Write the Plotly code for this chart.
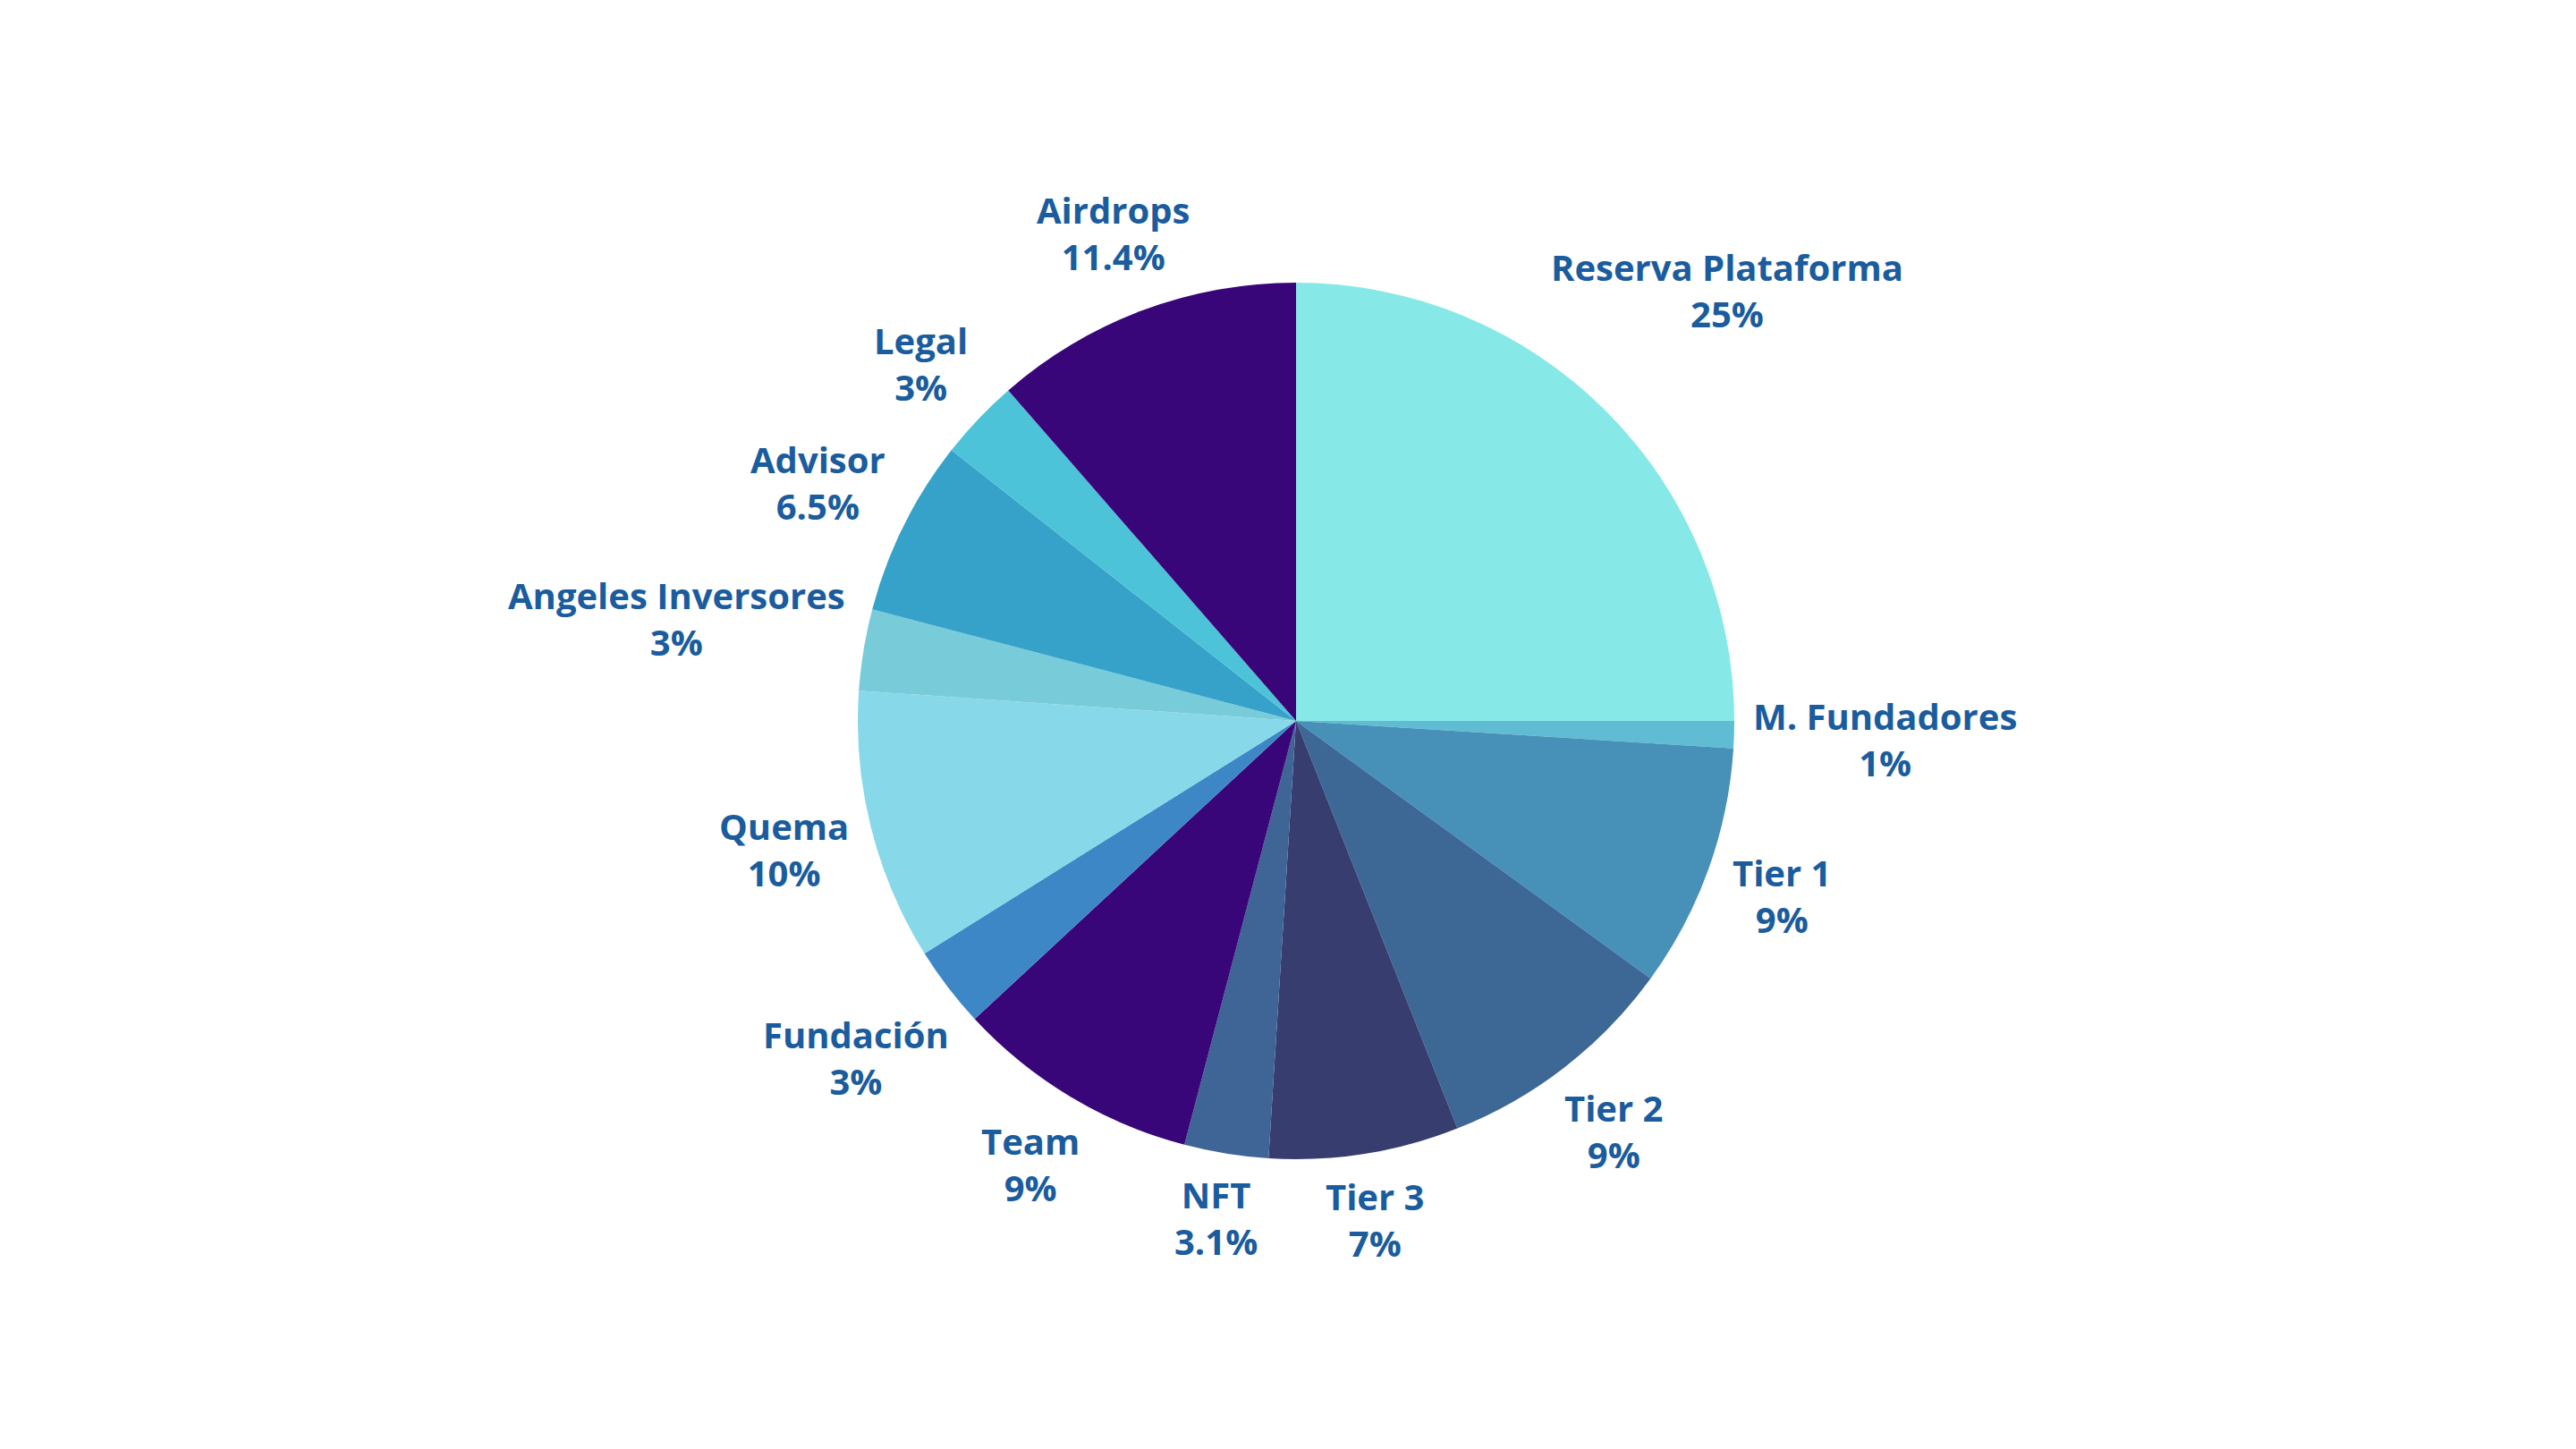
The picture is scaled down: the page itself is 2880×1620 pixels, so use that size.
import math
import plotly.graph_objects as go

labels = ["Reserva Plataforma", "M. Fundadores", "Tier 1", "Tier 2", "Tier 3", "NFT",
          "Team", "Fundación", "Quema", "Angeles Inversores", "Advisor", "Legal", "Airdrops"]
values = [25, 1, 9, 9, 7, 3.1, 9, 3, 10, 3, 6.5, 3, 11.4]
colors = ["#87E9E7", "#5FBCD3", "#4790B8", "#3D6896", "#373D6E", "#3E6595",
          "#390679", "#3E87C6", "#87D8E9", "#78CCD9", "#36A2C9", "#4CC3D9", "#390679"]

FONT = "Open Sans"
FS = 40
TXT = "#1A5C9E"

# page geometry
W, H = 2880, 1620
ML, MR, MT, MB = 100, 82, 316, 324
radius = min(W - ML - MR, H - MT - MB) / 2.0

# approximate Open Sans Bold advance widths (em/1000) for label placement
cw = {'A': 690, 'F': 575, 'I': 330, 'L': 557, 'M': 995, 'N': 846, 'P': 666, 'Q': 801,
      'R': 666, 'T': 589, 'a': 604, 'c': 514, 'd': 622, 'e': 591, 'f': 394, 'g': 550,
      'i': 288, 'l': 288, 'm': 942, 'n': 638, 'o': 614, 'p': 622, 'r': 445, 's': 497,
      't': 429, 'u': 638, 'v': 565, 'ó': 614, '%': 871, '.': 285, ' ': 260}


def tw(s):
    return sum(cw.get(ch, 572) for ch in s) / 1000.0 * FS


fig = go.Figure(go.Pie(
    labels=labels,
    values=values,
    sort=False,
    direction="clockwise",
    rotation=0,
    marker=dict(colors=colors, line=dict(width=0)),
    textinfo="none",
    hoverinfo="label+value",
    showlegend=False,
))

total = sum(values)
cum = 0.0
annotations = []
gap = 20
half_h = 46
for lab, v in zip(labels, values):
    mid = (cum + v / 2.0) / total * 2 * math.pi
    cum += v
    sx, sy = math.sin(mid), math.cos(mid)
    vtxt = f"{v:g}%"
    a = max(tw(lab), tw(vtxt)) / 2.0
    d = radius + gap + abs(sx) * a + abs(sy) * half_h
    annotations.append(dict(
        text=f"<b>{lab}</b><br><b>{vtxt}</b>", x=0.5, y=0.5, xref="paper", yref="paper",
        xshift=d * sx, yshift=d * sy, showarrow=False,
        xanchor="center", yanchor="middle", align="center",
        font=dict(family=FONT, size=FS, color=TXT),
    ))

fig.update_layout(
    width=W, height=H,
    margin=dict(l=ML, r=MR, t=MT, b=MB),
    paper_bgcolor="white",
    plot_bgcolor="white",
    annotations=annotations,
)

fig.write_html("out.html")
